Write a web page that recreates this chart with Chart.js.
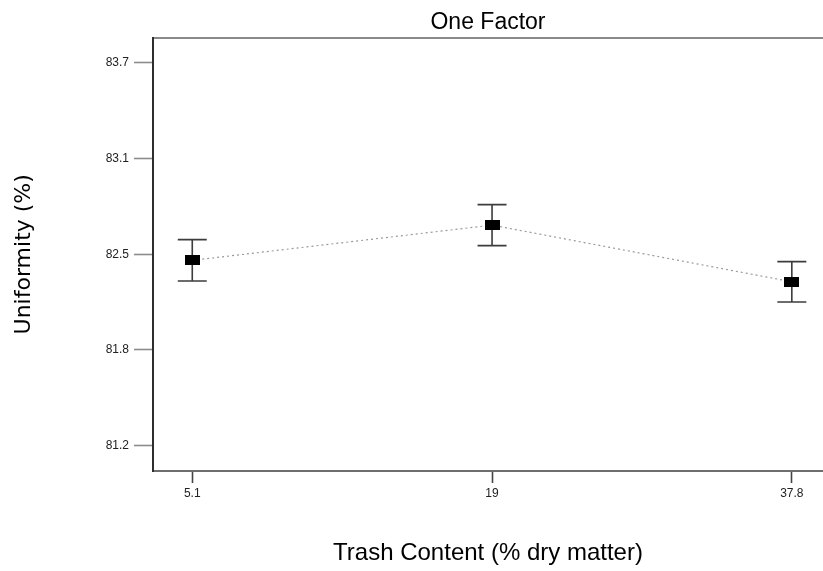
<!DOCTYPE html>
<html>
<head>
<meta charset="utf-8">
<style>
  html, body { margin: 0; padding: 0; background: #ffffff; }
  #wrap { width: 823px; height: 571px; }
</style>
<script src="https://cdn.jsdelivr.net/npm/chart.js@4.4.1/dist/chart.umd.min.js"></script>
</head>
<body>
<div id="wrap"><canvas id="chart" width="823" height="571"></canvas></div>
<script>
// Trash content levels (equally spaced factor levels)
const categories = ['5.1', '19', '37.8'];
// Mean uniformity at each level and its error-bar half-width
const uniformity = [82.41, 82.64, 82.27];
const errorHalf = [0.135, 0.134, 0.132];
// Y axis tick positions and the labels printed at them
const yTickValues = [81.2, 81.825, 82.45, 83.075, 83.7];
const yTickLabels = ['81.2', '81.8', '82.5', '83.1', '83.7'];

// Solid black rectangular marker
const marker = document.createElement('canvas');
marker.width = 15; marker.height = 10;
(function () {
  const c = marker.getContext('2d');
  c.fillStyle = '#000000';
  c.fillRect(0, 0, 15, 10);
})();

// Draws vertical error bars with caps beneath the markers
const errorBars = {
  id: 'errorBars',
  beforeDatasetsDraw(chart) {
    const { ctx } = chart;
    const xs = chart.scales.x, ys = chart.scales.y;
    ctx.save();
    ctx.strokeStyle = '#3c3c3c';
    ctx.lineWidth = 1.6;
    uniformity.forEach((v, i) => {
      const x = xs.getPixelForValue(i);
      const yTop = ys.getPixelForValue(v + errorHalf[i]);
      const yBot = ys.getPixelForValue(v - errorHalf[i]);
      const cap = 14.5;
      ctx.beginPath();
      ctx.moveTo(x, yTop); ctx.lineTo(x, yBot);
      ctx.moveTo(x - cap, yTop); ctx.lineTo(x + cap, yTop);
      ctx.moveTo(x - cap, yBot); ctx.lineTo(x + cap, yBot);
      ctx.stroke();
    });
    ctx.restore();
  }
};

// Horizontal axes run right to the canvas edge
function fitHorizontal(height) {
  return function (scale) {
    scale.height = height;
    scale.paddingLeft = 0;
    scale.paddingRight = 0;
  };
}

new Chart(document.getElementById('chart'), {
  type: 'line',
  data: {
    datasets: [{
      data: uniformity.map((v, i) => ({ x: i, y: v })),
      borderColor: '#9a9a9a',
      borderWidth: 1.2,
      borderDash: [2, 3],
      pointStyle: marker,
      pointRadius: 8,
      pointHoverRadius: 8,
      tension: 0,
      fill: false
    }]
  },
  options: {
    responsive: false,
    animation: false,
    events: [],
    layout: { padding: 0, autoPadding: false },
    plugins: {
      legend: { display: false },
      tooltip: { enabled: false },
      title: {
        display: true,
        text: 'One Factor',
        fullSize: false,
        color: '#000000',
        font: { family: '"Liberation Sans", Arial, sans-serif', size: 23, weight: 'normal' },
        padding: { top: 9, bottom: 1 }
      }
    },
    scales: {
      x: {
        type: 'linear',
        position: 'bottom',
        min: -0.131,
        max: 2.104,
        afterBuildTicks(scale) { scale.ticks = categories.map((c, i) => ({ value: i })); },
        afterFit: fitHorizontal(100),
        ticks: {
          callback: (v, i) => categories[i],
          color: '#222222',
          font: { family: '"Liberation Sans", Arial, sans-serif', size: 12 },
          padding: 3,
          maxRotation: 0
        },
        grid: { drawOnChartArea: false, tickLength: 12, tickColor: '#444444', tickWidth: 1.6 },
        border: { color: '#6e6e6e', width: 2 },
        title: {
          display: true,
          text: 'Trash Content (% dry matter)',
          color: '#000000',
          font: { family: '"Liberation Sans", Arial, sans-serif', size: 24 },
          padding: { top: 0, bottom: 3 }
        }
      },
      xTop: {
        type: 'linear',
        position: 'top',
        min: -0.131,
        max: 2.104,
        afterFit: fitHorizontal(0),
        ticks: { display: false },
        grid: { drawOnChartArea: false, drawTicks: false },
        border: { color: '#8a8a8a', width: 2 }
      },
      y: {
        type: 'linear',
        min: 81.035,
        max: 83.864,
        afterBuildTicks(scale) { scale.ticks = yTickValues.map(v => ({ value: v })); },
        afterFit(scale) { scale.width = 153; scale.paddingTop = 0; scale.paddingBottom = 0; },
        ticks: {
          callback: (v, i) => yTickLabels[i],
          color: '#222222',
          font: { family: '"Liberation Sans", Arial, sans-serif', size: 12 },
          padding: 5
        },
        grid: { drawOnChartArea: false, tickLength: 19, tickColor: '#8c8c8c', tickWidth: 1.6 },
        border: { color: '#2e2e2e', width: 2 },
        title: {
          display: true,
          text: 'Uniformity (%)',
          color: '#000000',
          font: { family: '"DejaVu Sans", Verdana, sans-serif', size: 22 },
          padding: { top: 11, bottom: 0 }
        }
      }
    }
  },
  plugins: [errorBars]
});
</script>
</body>
</html>
